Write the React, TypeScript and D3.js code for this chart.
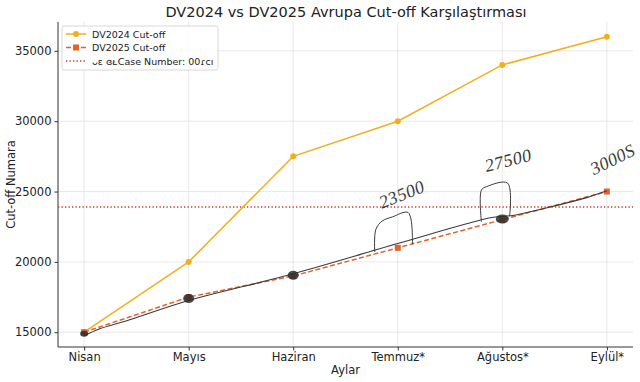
import React, { useEffect, useRef } from 'react';
import * as d3 from 'd3';

const months = ['Nisan', 'Mayıs', 'Haziran', 'Temmuz*', 'Ağustos*', 'Eylül*'];
const dv2024 = [15000, 20000, 27500, 30000, 34000, 36000];
const dv2025 = [15000, 17500, 19000, 21000, 23000, 25000];
const caseNumber = 23900;
const yTicks = [15000, 20000, 25000, 30000, 35000];

// hand-drawn overlay, in data units (month index, value)
const penLine: [number, number][] = [
  [0.0, 14750], [0.15, 15250], [0.4, 15800], [1.0, 17250], [2.0, 19150],
  [3.0, 21300], [3.9, 23150], [4.1, 23300], [4.4, 23800], [4.8, 24550], [5.0, 25050],
];
const blobs: [number, number, number, number][] = [
  [0.0, 14900, 4, 3], [1.0, 17400, 5.5, 4.5], [2.0, 19050, 5.5, 4.5], [4.0, 23050, 6.5, 4.5],
];
const brackets: [number, number][][] = [
  [[2.78, 20700], [2.79, 22300], [2.85, 22900], [2.95, 23200], [3.1, 23500], [3.14, 21250]],
  [[3.8, 22850], [3.8, 25100], [3.85, 25350], [4.05, 25600], [4.07, 23250]],
];
const handNotes = [
  { text: '23500', x: 3.06, v: 24400, angle: -22 },
  { text: '27500', x: 4.07, v: 26800, angle: -14 },
  { text: '3000S', x: 5.08, v: 26900, angle: -26 },
];

const W = 640;
const H = 382;

const App: React.FC = () => {
  const svgRef = useRef<SVGSVGElement>(null);

  useEffect(() => {
    document.body.style.margin = '0';
    if (!svgRef.current) return;
    const svg = d3.select(svgRef.current);
    svg.selectAll('*').remove();

    const x = d3.scaleLinear().domain([-0.25, 5.25]).range([58, 633]);
    const y = d3.scaleLinear().domain([13950, 37050]).range([347, 22]);
    const font = 'DejaVu Sans, sans-serif';

    // grid
    svg.append('g').selectAll('line').data(yTicks).enter().append('line')
      .attr('x1', x.range()[0]).attr('x2', x.range()[1])
      .attr('y1', d => y(d)).attr('y2', d => y(d))
      .attr('stroke', '#e3e3e3').attr('stroke-width', 0.8);
    svg.append('g').selectAll('line').data(months).enter().append('line')
      .attr('x1', (_, i) => x(i)).attr('x2', (_, i) => x(i))
      .attr('y1', y.range()[0]).attr('y2', y.range()[1])
      .attr('stroke', '#e3e3e3').attr('stroke-width', 0.8);

    // axes
    const xAxis = d3.axisBottom(x).tickValues(d3.range(months.length))
      .tickFormat((_, i) => months[i]).tickSize(3.5).tickPadding(2.5);
    const gx = svg.append('g').attr('transform', `translate(0,${y.range()[0]})`).call(xAxis);
    const yAxis = d3.axisLeft(y).tickValues(yTicks).tickFormat(d3.format('d')).tickSize(3.5).tickPadding(3);
    const gy = svg.append('g').attr('transform', `translate(${x.range()[0]},0)`).call(yAxis);
    [gx, gy].forEach(g => {
      g.select('.domain').attr('stroke', '#333').attr('stroke-width', 1);
      g.selectAll('.tick line').attr('stroke', '#333');
      g.selectAll('.tick text').attr('fill', '#222').style('font-family', font).style('font-size', '11.5px');
    });
    gy.select('.domain').attr('d', `M0,${y.range()[0]}V${y.range()[1]}`);
    gx.select('.domain').attr('d', `M${x.range()[0]},0H${x.range()[1]}`);

    // axis titles
    svg.append('text').attr('x', (x.range()[0] + x.range()[1]) / 2).attr('y', 374)
      .attr('text-anchor', 'middle').style('font-family', font).style('font-size', '11.5px')
      .attr('fill', '#222').text('Aylar');
    svg.append('text').attr('transform', `translate(15,${(y.range()[0] + y.range()[1]) / 2}) rotate(-90)`)
      .attr('text-anchor', 'middle').style('font-family', font).style('font-size', '11.5px')
      .attr('fill', '#222').text('Cut-off Numara');
    svg.append('text').attr('x', 346).attr('y', 17).attr('text-anchor', 'middle')
      .style('font-family', font).style('font-size', '14.5px').attr('fill', '#222')
      .text('DV2024 vs DV2025 Avrupa Cut-off Karşılaştırması');

    // case number line
    svg.append('line').attr('x1', x.range()[0]).attr('x2', x.range()[1])
      .attr('y1', y(caseNumber)).attr('y2', y(caseNumber))
      .attr('stroke', '#c8372d').attr('stroke-width', 1.3).attr('stroke-dasharray', '1.3,2.2');

    const line = d3.line<number>().x((_, i) => x(i)).y(d => y(d));

    // DV2024
    svg.append('path').attr('d', line(dv2024)).attr('fill', 'none')
      .attr('stroke', '#f0b01e').attr('stroke-width', 1.5);
    svg.append('g').selectAll('circle').data(dv2024).enter().append('circle')
      .attr('cx', (_, i) => x(i)).attr('cy', d => y(d)).attr('r', 3).attr('fill', '#f0b01e');

    // DV2025
    svg.append('path').attr('d', line(dv2025)).attr('fill', 'none')
      .attr('stroke', '#e0642b').attr('stroke-width', 1.5).attr('stroke-dasharray', '5,2.5');
    svg.append('g').selectAll('rect').data(dv2025).enter().append('rect')
      .attr('x', (_, i) => x(i) - 3).attr('y', d => y(d) - 3).attr('width', 6).attr('height', 6)
      .attr('fill', '#e0642b');

    // pen annotations
    const pen = d3.line<[number, number]>().x(d => x(d[0])).y(d => y(d[1])).curve(d3.curveCatmullRom);
    svg.append('path').attr('d', pen(penLine)).attr('fill', 'none')
      .attr('stroke', '#3a3a3a').attr('stroke-width', 1.1);
    brackets.forEach(b => {
      svg.append('path').attr('d', pen(b)).attr('fill', 'none')
        .attr('stroke', '#3a3a3a').attr('stroke-width', 1);
    });
    svg.append('g').selectAll('ellipse').data(blobs).enter().append('ellipse')
      .attr('cx', d => x(d[0])).attr('cy', d => y(d[1])).attr('rx', d => d[2]).attr('ry', d => d[3])
      .attr('fill', '#2b2b2b').attr('opacity', 0.85);
    handNotes.forEach(n => {
      svg.append('text').attr('transform', `translate(${x(n.x)},${y(n.v)}) rotate(${n.angle})`)
        .attr('text-anchor', 'middle').style('font-family', 'Liberation Serif, serif')
        .style('font-style', 'italic').style('font-size', '18px').style('letter-spacing', '0.5px')
        .attr('fill', '#3a3a3a').text(n.text);
    });

    // legend
    const lg = svg.append('g').attr('transform', 'translate(62,26)');
    lg.append('rect').attr('width', 156).attr('height', 44).attr('rx', 2)
      .attr('fill', 'white').attr('fill-opacity', 0.85).attr('stroke', '#d8d8d8');
    const items = [
      { label: 'DV2024 Cut-off', color: '#f0b01e', dash: null, mark: 'circle' },
      { label: 'DV2025 Cut-off', color: '#e0642b', dash: '5,2.5', mark: 'square' },
      { label: 'ᴗɛ ɞᴌCase Number: 00ɾcı', color: '#c8372d', dash: '1.3,2.2', mark: null },
    ];
    items.forEach((it, i) => {
      const gy0 = 8 + i * 13.5;
      lg.append('line').attr('x1', 4).attr('x2', 24).attr('y1', gy0).attr('y2', gy0)
        .attr('stroke', it.color).attr('stroke-width', 1.5)
        .attr('stroke-dasharray', it.dash);
      if (it.mark === 'circle') lg.append('circle').attr('cx', 14).attr('cy', gy0).attr('r', 3).attr('fill', it.color);
      if (it.mark === 'square') lg.append('rect').attr('x', 11).attr('y', gy0 - 3).attr('width', 6).attr('height', 6).attr('fill', it.color);
      lg.append('text').attr('x', 30).attr('y', gy0 + 3.5).style('font-family', font)
        .style('font-size', '9.5px').attr('fill', '#222').text(it.label);
    });
  }, []);

  return <svg ref={svgRef} width={W} height={H} style={{ display: 'block', background: 'white' }} />;
};

export default App;
